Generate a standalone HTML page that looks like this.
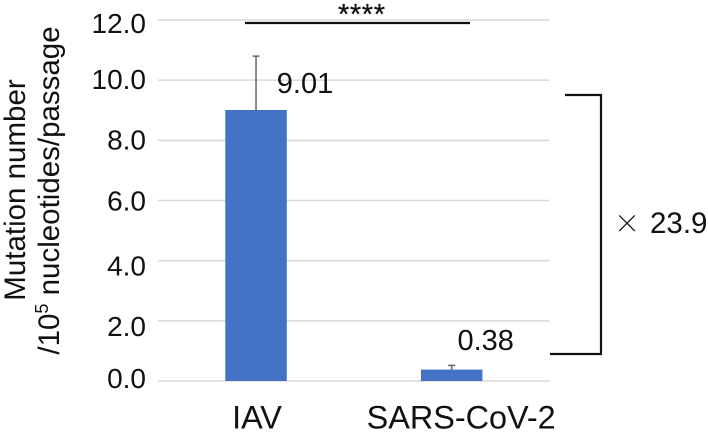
<!DOCTYPE html>
<html lang="en">
<head>
<meta charset="utf-8">
<title>Mutation number chart</title>
<style>
html,body{margin:0;padding:0;background:#fff;width:708px;height:432px;overflow:hidden}
svg{display:block;filter:blur(0.3px)}
text{font-family:"Liberation Sans",Arial,sans-serif;fill:#111}
</style>
</head>
<body>
<svg id="chart" xmlns="http://www.w3.org/2000/svg" width="708" height="432" viewBox="0 0 708 432">
  <g id="grid"></g>
  <g id="ticks"></g>
  <g id="bars"></g>
  <g id="labels"></g>
  <text transform="translate(25,190) rotate(-90)" text-anchor="middle" font-size="29.5">Mutation number</text>
  <text transform="translate(59,190.5) rotate(-90)" text-anchor="middle" font-size="29.5">/10<tspan font-size="18" dy="-11">5</tspan><tspan dy="11"> nucleotides/passage</tspan></text>
  <line x1="245" y1="23" x2="470" y2="23" stroke="#111" stroke-width="2.2"/>
  <text x="361.5" y="24" text-anchor="middle" font-size="29" textLength="47" lengthAdjust="spacing" stroke="#111" stroke-width="0.3">****</text>
  <path d="M565 95H601V354H550" fill="none" stroke="#111" stroke-width="2.2"/>
  <text x="627" y="233" text-anchor="middle" font-size="26" font-weight="300" style="font-family:'Noto Sans CJK JP','Liberation Sans',sans-serif">×</text>
  <text x="650" y="233" font-size="29.5">23.9</text>
</svg>
<script>
const categories = ["IAV", "SARS-CoV-2"];
const meanValues = [9.01, 0.38];
const errorTops = [10.8, 0.52];
const valueLabels = ["9.01", "0.38"];
const tickValues = [0, 2, 4, 6, 8, 10, 12];
const tickLabels = ["0.0", "2.0", "4.0", "6.0", "8.0", "10.0", "12.0"];

const NS = "http://www.w3.org/2000/svg";
const plot = { left: 158, right: 549.3, top: 20, bottom: 381, yMax: 12 };
const barWidth = 61.5;
const y = v => plot.bottom - (v / plot.yMax) * (plot.bottom - plot.top);
const x = i => plot.left + (i + 0.5) * (plot.right - plot.left) / categories.length;

// Layout: the source's tick labels sit unevenly against their gridlines.
const tickBaselineOffset = i => [7, 15, 15, 10, 9, 9, 13][i];
const valueLabelOffset = i => [49, 34][i];
const valueLabelLift = i => [17, 19.5][i];
const categoryLabelOffset = i => [1, 9.5][i];

function make(tag, attrs, parent, text) {
  const el = document.createElementNS(NS, tag);
  for (const k in attrs) el.setAttribute(k, attrs[k]);
  if (text !== undefined) el.textContent = text;
  parent.appendChild(el);
  return el;
}

const gridG = document.getElementById("grid");
const ticksG = document.getElementById("ticks");
const barsG = document.getElementById("bars");
const labelsG = document.getElementById("labels");

tickValues.forEach((t, i) => {
  const line = make("line", { x1: plot.left, x2: plot.right, y1: y(t), y2: y(t), stroke: "#d9d9d9", "stroke-width": 1.5 }, gridG);
  
  
  const label = make("text", { x: 146, y: y(t) + tickBaselineOffset(i), "text-anchor": "end", "font-size": 28 }, ticksG, tickLabels[i]);
  
  
});

categories.forEach((c, i) => {
  const cx = x(i) + 0.2;
  const bar = make("rect", { x: cx - barWidth / 2, y: y(meanValues[i]), width: barWidth, height: y(0) - y(meanValues[i]), fill: "#4472c4" }, barsG);
  
  
  const err = make("path", {
    d: "M" + (cx - 3.5) + " " + y(errorTops[i]) + "H" + (cx + 3.5) + "M" + cx + " " + y(errorTops[i]) + "V" + y(meanValues[i]),
    stroke: "#666", "stroke-width": 1.5, fill: "none"
  }, barsG);
  
  
  const value = make("text", { x: cx + valueLabelOffset(i), y: y(meanValues[i]) - valueLabelLift(i), "text-anchor": "middle", "font-size": 29 }, barsG, valueLabels[i]);
  
  
  const cat = make("text", { x: cx + categoryLabelOffset(i), y: 428.5, "text-anchor": "middle", "font-size": 32.4 }, labelsG, c);
  
  
});
</script>
</body>
</html>
